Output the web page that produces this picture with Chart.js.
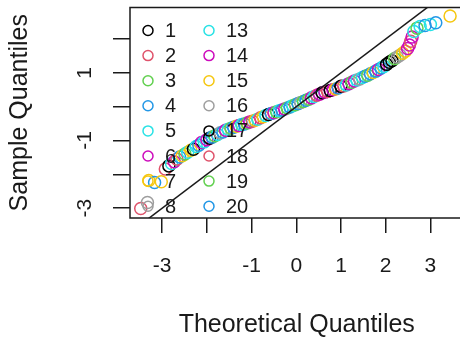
<!DOCTYPE html>
<html>
<head>
<meta charset="utf-8">
<script src="https://cdn.jsdelivr.net/npm/chart.js@4.4.0/dist/chart.umd.min.js"></script>
<style>
  html, body { margin: 0; padding: 0; background: #fff; overflow: hidden; }
  #wrap { width: 460px; height: 338px; overflow: hidden; }
</style>
</head>
<body>
<div id="wrap"><canvas id="qq" width="471" height="338"></canvas></div>
<script>
// R default palette, groups cycle every 8
const palette = ['#000000', '#DF536B', '#61D04F', '#2297E6', '#28E2E5', '#CD0BBC', '#F5C710', '#9E9E9E'];

// theoretical quantiles (x)
const theoX = [
  -3.48, -3.33, -3.30, -3.17, -3.02, -2.93, -2.85, -2.79, -2.73, -2.67,
  -2.61, -2.55, -2.49, -2.43, -2.36, -2.30, -2.24, -2.18, -2.12, -2.06,
  -2.00, -1.94, -1.88, -1.82, -1.76, -1.70, -1.64, -1.58, -1.52, -1.46,
  -1.40, -1.34, -1.28, -1.22, -1.16, -1.10, -1.04, -0.98, -0.92, -0.86,
  -0.80, -0.74, -0.68, -0.62, -0.56, -0.50, -0.44, -0.38, -0.32, -0.26,
  -0.20, -0.14, -0.08, -0.02, 0.04, 0.10, 0.16, 0.22, 0.28, 0.34,
  0.40, 0.46, 0.52, 0.58, 0.64, 0.70, 0.76, 0.82, 0.88, 0.94,
  1.00, 1.06, 1.12, 1.18, 1.24, 1.30, 1.36, 1.42, 1.48, 1.54,
  1.60, 1.66, 1.72, 1.78, 1.84, 1.90, 1.96, 2.02, 2.08, 2.14,
  2.20, 2.26, 2.32, 2.38, 2.44, 2.49, 2.53, 2.56, 2.59, 2.63,
  2.70, 2.77, 2.88, 3.00, 3.12, 3.44
];

// sample quantiles (y)
const sampleY = [
  -3.01, -2.83, -2.18, -2.24, -2.22, -1.84, -1.75, -1.68, -1.63, -1.55,
  -1.49, -1.45, -1.40, -1.35, -1.29, -1.26, -1.18, -1.14, -1.06, -1.04,
  -0.98, -0.93, -0.90, -0.86, -0.82, -0.77, -0.75, -0.70, -0.67, -0.64,
  -0.61, -0.58, -0.56, -0.53, -0.51, -0.48, -0.45, -0.43, -0.40, -0.37,
  -0.33, -0.30, -0.26, -0.23, -0.20, -0.18, -0.15, -0.12, -0.10, -0.07,
  -0.04, -0.01, 0.03, 0.06, 0.09, 0.12, 0.15, 0.19, 0.22, 0.26,
  0.30, 0.34, 0.37, 0.41, 0.43, 0.45, 0.48, 0.50, 0.52, 0.55,
  0.60, 0.61, 0.64, 0.68, 0.72, 0.76, 0.79, 0.82, 0.86, 0.90,
  0.93, 0.97, 1.01, 1.05, 1.10, 1.14, 1.19, 1.25, 1.31, 1.36,
  1.42, 1.47, 1.52, 1.58, 1.64, 1.72, 1.82, 1.93, 2.06, 2.22,
  2.32, 2.37, 2.40, 2.43, 2.48, 2.68
];

// group of each point (1..20)
const grp = [
  2, 8, 7, 4, 15, 2, 17, 5, 6, 10,
  4, 15, 3, 13, 7, 1, 5, 20, 6, 13,
  14, 1, 4, 11, 5, 16, 12, 6, 13, 3,
  20, 15, 14, 5, 4, 19, 6, 2, 15, 13,
  10, 7, 5, 17, 4, 14, 3, 13, 20, 6,
  19, 12, 5, 3, 20, 16, 11, 4, 19, 6,
  13, 2, 14, 1, 6, 10, 1, 14, 7, 4,
  17, 18, 5, 6, 19, 14, 13, 8, 5, 12,
  3, 4, 15, 20, 6, 4, 13, 1, 17, 9,
  3, 16, 8, 7, 15, 14, 6, 2, 14, 13,
  3, 5, 20, 13, 4, 7
];

// reference line y = x
const lineX = [-4, 4];
const lineY = [-4, 4];

const xTicks = [-3, -2, -1, 0, 1, 2, 3];
const xTickLabels = ['-3', '', '-1', '0', '1', '2', '3'];
const yTicks = [-3, -2, -1, 0, 1, 2];
const yTickLabels = ['-3', '', '-1', '', '1', ''];

// visible legend entries
const legendLeft = ['1', '2', '3', '4', '5', '6', '7', '8'];
const legendRight = ['13', '14', '15', '16', '17', '18', '19', '20'];

const FONT = '"Liberation Sans", Arial, Helvetica, sans-serif';
const INK = '#1a1a1a';

function groupColour(g) {
  return palette[(g - 1) % 8];
}

const boxPlugin = {
  id: 'rBox',
  afterDraw(chart) {
    const { ctx, chartArea: a } = chart;
    ctx.save();
    ctx.strokeStyle = INK;
    ctx.lineWidth = 1.5;
    ctx.strokeRect(a.left, a.top, a.right - a.left, a.bottom - a.top);
    ctx.restore();
  }
};

const legendPlugin = {
  id: 'rLegend',
  afterDatasetsDraw(chart) {
    const { ctx, chartArea: a } = chart;
    ctx.save();
    ctx.font = '20px ' + FONT;
    ctx.textBaseline = 'middle';
    ctx.lineWidth = 1.5;
    [legendLeft, legendRight].forEach((col, c) => {
      col.forEach((lab, i) => {
        const x = a.left + 18 + c * 61;
        const y = a.top + 23 + i * 25.1;
        ctx.strokeStyle = groupColour(+lab);
        ctx.beginPath();
        ctx.arc(x, y, 5, 0, Math.PI * 2);
        ctx.stroke();
        ctx.fillStyle = INK;
        ctx.fillText(lab, x + 17, y + 1);
      });
    });
    ctx.restore();
  }
};

const points = theoX.map((x, i) => ({ x: x, y: sampleY[i] }));

new Chart(document.getElementById('qq'), {
  type: 'scatter',
  data: {
    datasets: [
      {
        type: 'line',
        data: lineX.map((x, i) => ({ x: x, y: lineY[i] })),
        borderColor: INK,
        borderWidth: 1.5,
        pointRadius: 0,
        order: 0
      },
      {
        data: points,
        pointStyle: 'circle',
        pointRadius: 6,
        pointBorderWidth: 1.5,
        backgroundColor: 'rgba(0,0,0,0)',
        borderColor: grp.map(groupColour),
        order: 1
      }
    ]
  },
  options: {
    responsive: false,
    animation: false,
    layout: { padding: { top: 3, right: 2, left: 0, bottom: 0 } },
    plugins: { legend: { display: false }, tooltip: { enabled: false } },
    scales: {
      x: {
        type: 'linear',
        min: -3.72,
        max: 3.74,
        afterBuildTicks: s => { s.ticks = xTicks.map(v => ({ value: v })); },
        afterFit: s => { s.height = 120; s.paddingLeft = 0; s.paddingRight = 0; },
        ticks: {
          autoSkip: false,
          maxRotation: 0,
          padding: 21,
          color: INK,
          font: { family: FONT, size: 21 },
          callback: (v, i) => xTickLabels[i]
        },
        grid: { display: true, drawOnChartArea: false, tickLength: 15, color: INK, lineWidth: 1.5 },
        border: { display: false },
        title: {
          display: true,
          text: 'Theoretical Quantiles',
          color: INK,
          font: { family: FONT, size: 25, lineHeight: 1 },
          padding: { top: 0, bottom: 0 }
        }
      },
      y: {
        type: 'linear',
        min: -3.29,
        max: 2.93,
        afterBuildTicks: s => { s.ticks = yTicks.map(v => ({ value: v })); },
        afterFit: s => { s.width = 130; s.paddingTop = 0; s.paddingBottom = 0; },
        ticks: {
          autoSkip: false,
          minRotation: 90,
          maxRotation: 90,
          crossAlign: 'center',
          padding: 18,
          color: INK,
          font: { family: FONT, size: 21 },
          callback: (v, i) => yTickLabels[i]
        },
        grid: { display: true, drawOnChartArea: false, tickLength: 17, color: INK, lineWidth: 1.5 },
        border: { display: false },
        title: {
          display: true,
          text: 'Sample Quantiles',
          color: INK,
          font: { family: FONT, size: 25, lineHeight: 1 },
          padding: { top: 7.5, bottom: 0 }
        }
      }
    }
  },
  plugins: [legendPlugin, boxPlugin]
});
</script>
</body>
</html>
